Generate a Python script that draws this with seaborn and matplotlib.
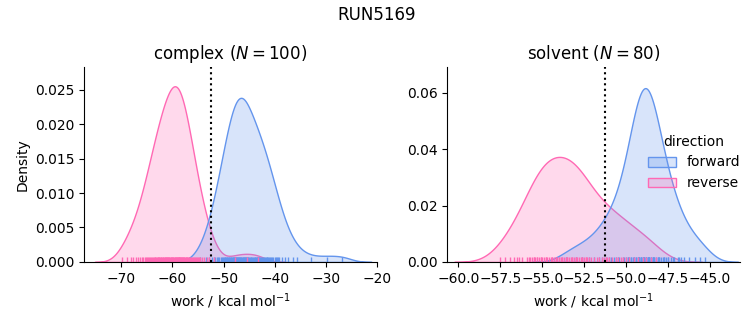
import numpy as np
import pandas as pd
import seaborn as sns
import matplotlib
matplotlib.use("Agg")
import matplotlib.pyplot as plt
from matplotlib.ticker import MultipleLocator

run_name = "RUN5169"
phases = ["complex", "solvent"]
directions = ["forward", "reverse"]
palette_colors = ["cornflowerblue", "hotpink"]

complex_forward = [
    -54.6, -53.4,
    -52.8, -52.3, -51.9, -51.6, -51.3, -51.1,
    -50.9, -50.6, -50.4, -50.2, -50.0, -49.8, -49.7, -49.5, -49.4, -49.3,
    -49.1, -49.0,
    -48.9, -48.8, -48.6, -48.5, -48.4, -48.2, -48.1, -48.0, -47.9, -47.8,
    -47.7, -47.6, -47.5, -47.4, -47.3, -47.2, -47.1, -47.0,
    -46.9, -46.8, -46.7, -46.6, -46.5, -46.4, -46.3, -46.2, -46.1, -46.0,
    -45.9, -45.8, -45.7, -45.6, -45.5, -45.4, -45.3, -45.2, -45.1,
    -44.9, -44.7, -44.6, -44.4, -44.2, -44.1, -43.9, -43.8, -43.6, -43.5,
    -43.4, -43.3, -43.2, -43.1, -43.0,
    -42.9, -42.7, -42.5, -42.3, -42.1, -41.9, -41.8, -41.6, -41.5, -41.3,
    -41.2, -41.0,
    -40.8, -40.5, -40.3, -40.0, -39.8, -39.6, -39.3, -39.1,
    -38.6, -38.0, -37.4, -36.5, -35.6,
    -33.0, -29.8, -26.8,
]
complex_reverse = [
    -69.8, -68.9,
    -68.2, -67.7, -67.2, -66.8,
    -66.3, -66.0, -65.7, -65.4, -65.2, -65.0, -64.8, -64.6,
    -64.4, -64.2, -64.0, -63.9, -63.7, -63.5, -63.4, -63.2, -63.0, -62.9,
    -62.8, -62.7, -62.6,
    -62.4, -62.3, -62.2, -62.0, -61.9, -61.8, -61.6, -61.5, -61.4, -61.3,
    -61.2, -61.1, -61.0, -60.9, -60.8, -60.7, -60.6,
    -60.4, -60.3, -60.2, -60.1, -60.0, -59.9, -59.8, -59.7, -59.6, -59.5,
    -59.4, -59.3, -59.2, -59.1, -59.0, -58.9, -58.8, -58.8, -58.7, -58.6,
    -58.5,
    -58.4, -58.3, -58.2, -58.1, -58.0, -57.9, -57.8, -57.7, -57.6, -57.4,
    -57.3, -57.2, -57.1, -56.9, -56.8, -56.7, -56.6,
    -56.4, -56.2, -56.0, -55.8, -55.6, -55.4, -55.2, -55.0, -54.8, -54.6,
    -54.3, -53.8, -53.3, -52.8,
    -51.9,
    -47.8, -45.5, -43.3,
]
solvent_forward = [
    -53.6, -53.0, -52.6, -52.2,
    -51.9, -51.6, -51.4, -51.2, -51.0,
    -50.9, -50.7, -50.6, -50.5, -50.4, -50.2, -50.1,
    -50.0, -49.9, -49.9, -49.8, -49.7, -49.7, -49.6,
    -49.5, -49.5, -49.4, -49.4, -49.3, -49.3, -49.2, -49.2, -49.2,
    -49.1, -49.1, -49.1, -49.0, -49.0, -49.0, -48.9, -48.9, -48.9,
    -48.8, -48.8, -48.8, -48.7, -48.7, -48.7, -48.6, -48.6, -48.6,
    -48.5, -48.5, -48.4, -48.4, -48.4, -48.3, -48.3,
    -48.2, -48.1, -48.1, -48.0, -48.0, -47.9, -47.8, -47.7, -47.7, -47.6,
    -47.5, -47.5,
    -47.3, -47.2, -47.1, -46.9, -46.8, -46.7, -46.5,
    -46.2, -45.9, -45.6, -45.3,
]
solvent_reverse = [
    -57.5, -57.2,
    -56.9, -56.7, -56.5, -56.4, -56.2, -55.5,
    -55.9, -55.8, -55.7, -55.6, -55.5, -55.4, -55.3, -55.3, -55.2, -55.1,
    -55.1, -55.0,
    -54.9, -54.8, -54.8, -54.7, -54.6, -54.5, -54.4, -54.4, -54.3, -54.2,
    -54.2, -54.1, -54.0, -54.0,
    -53.9, -53.8, -53.8, -53.7, -53.6, -53.5, -53.5, -53.4, -53.3, -53.2,
    -53.2, -53.1, -53.0, -53.0,
    -52.9, -52.8, -52.7, -52.6, -52.5, -52.4, -52.3, -52.2, -52.1, -52.6,
    -52.4,
    -51.9, -51.7, -51.6, -51.4, -51.3, -51.2, -51.1, -51.0,
    -50.8, -50.6, -50.5, -50.3, -50.2, -50.0,
    -49.8, -49.5, -49.3, -49.0,
    -48.8, -48.5, -48.2,
]
estimates = {"complex": -52.55, "solvent": -51.27}

frames = []
for phase, fwd, rev in [("complex", complex_forward, complex_reverse),
                        ("solvent", solvent_forward, solvent_reverse)]:
    frames.append(pd.DataFrame({"work": fwd, "direction": "forward", "phase": phase}))
    frames.append(pd.DataFrame({"work": rev, "direction": "reverse", "phase": phase}))
df = pd.concat(frames, ignore_index=True)

g = sns.displot(
    data=df, x="work", hue="direction", col="phase", kind="kde",
    fill=True, rug=True, common_norm=True,
    hue_order=directions, col_order=phases,
    palette=dict(zip(directions, palette_colors)),
    facet_kws=dict(sharex=False, sharey=False),
    height=3, aspect=1.2,
)

fig = g.figure
fig.set_size_inches(7.53, 3.25)
fig.subplots_adjust(left=0.1116, right=0.983, bottom=0.194, top=0.794, wspace=0.24)

counts = {"complex": len(complex_forward), "solvent": len(solvent_forward)}
xlims = {"complex": (-77.3, -20.0), "solvent": (-60.67, -43.17)}
ylims = {"complex": (0, 0.0283), "solvent": (0, 0.0692)}
ysteps = {"complex": 0.005, "solvent": 0.02}
for ax, phase in zip(g.axes.flat, phases):
    ax.axvline(estimates[phase], color="k", linestyle=":", linewidth=1.5)
    ax.set_title(f"{phase} ($N = {counts[phase]}$)", fontsize=12)
    ax.set_xlabel("work / kcal mol$^{-1}$")
    ax.set_xlim(*xlims[phase])
    ax.set_ylim(*ylims[phase])
    ax.yaxis.set_major_locator(MultipleLocator(ysteps[phase]))
g.axes.flat[0].set_ylabel("Density")
g.axes.flat[1].set_ylabel("")

fig.suptitle(run_name, fontsize=12)
fig.savefig("out.png", dpi=100)
